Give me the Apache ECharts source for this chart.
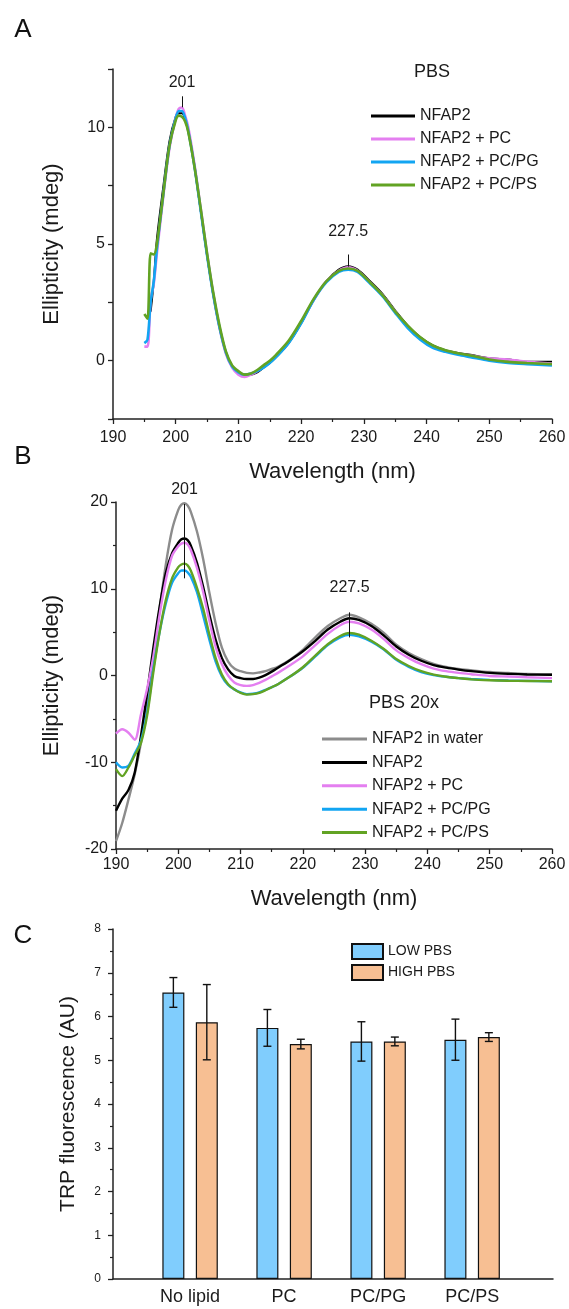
<!DOCTYPE html>
<html>
<head>
<meta charset="utf-8">
<script src="https://cdn.jsdelivr.net/npm/echarts@6/dist/echarts.min.js"></script>
<style>
  html, body { margin: 0; padding: 0; background: #fff; }
  #main { width: 569px; height: 1309px; }
</style>
</head>
<body>
<div id="main"></div>
<script>
// panel A - PBS
const wlA = [195, 195.5, 196, 196.5, 197, 198, 199, 200, 200.5, 201, 201.5, 202, 203, 204, 205, 206, 207, 208, 209, 210, 211, 212, 213, 214, 215, 216, 218, 220, 222, 224, 226, 227.5, 229, 231, 233, 235, 237, 239, 241, 243, 245, 247, 250, 253, 256, 260];
const nfapA = [null, null, 2.1, 3.4, 5.2, 7.4, 9.4, 10.45, 10.6, 10.6, 10.35, 9.85, 8.3, 6.4, 4.5, 2.8, 1.4, 0.35, -0.25, -0.5, -0.6, -0.6, -0.5, -0.3, -0.1, 0.15, 0.75, 1.6, 2.6, 3.4, 3.9, 4.05, 3.9, 3.4, 2.85, 2.15, 1.5, 1.0, 0.65, 0.45, 0.33, 0.25, 0.1, 0.05, -0.05, -0.05];
const pcA = [0.6, 0.6, 2.6, 3.3, 4.6, 7.0, 9.1, 10.4, 10.8, 10.85, 10.5, 10.0, 8.4, 6.5, 4.6, 2.85, 1.4, 0.3, -0.3, -0.6, -0.7, -0.6, -0.45, -0.25, -0.05, 0.2, 0.8, 1.65, 2.6, 3.4, 3.85, 4.0, 3.85, 3.35, 2.8, 2.1, 1.45, 0.95, 0.62, 0.42, 0.3, 0.22, 0.1, 0.05, -0.05, -0.12];
const pcpgA = [0.75, 0.9, 2.5, 3.4, 4.8, 7.1, 9.2, 10.4, 10.7, 10.7, 10.4, 9.85, 8.3, 6.4, 4.5, 2.8, 1.4, 0.35, -0.25, -0.5, -0.6, -0.55, -0.45, -0.3, -0.1, 0.15, 0.75, 1.6, 2.6, 3.35, 3.8, 3.9, 3.8, 3.3, 2.75, 2.05, 1.4, 0.9, 0.55, 0.38, 0.25, 0.15, 0.0, -0.1, -0.15, -0.2];
const pcpsA = [2.0, 1.8, 4.6, 4.55, 5.0, 7.1, 9.2, 10.3, 10.5, 10.45, 10.25, 9.8, 8.3, 6.5, 4.6, 2.9, 1.5, 0.4, -0.2, -0.45, -0.6, -0.55, -0.4, -0.2, 0.0, 0.25, 0.85, 1.7, 2.65, 3.4, 3.85, 3.95, 3.85, 3.35, 2.8, 2.1, 1.5, 1.0, 0.65, 0.45, 0.32, 0.22, 0.05, -0.05, -0.1, -0.15];
// [wavelength, from, to]
const peaksA = [[201, 10.86, 11.33], [227.5, 4.03, 4.55]];

// panel B - PBS 20x
const wlB = [190, 191, 192, 193, 194, 195, 196, 197, 198, 199, 200, 200.5, 201, 201.5, 202, 203, 204, 205, 206, 207, 208, 209, 210, 211, 212, 213, 214, 215, 216, 218, 220, 222, 224, 226, 227.5, 229, 231, 233, 235, 237, 239, 241, 243, 245, 247, 250, 253, 256, 260];
const waterB = [-19.1, -17.0, -14.3, -11.4, -7.8, -3.2, 2.1, 7.6, 12.8, 16.8, 19.1, 19.7, 19.85, 19.6, 18.9, 16.6, 13.4, 9.5, 6.0, 3.2, 1.6, 0.8, 0.5, 0.3, 0.25, 0.35, 0.5, 0.75, 1.0, 1.85, 2.95, 4.4, 5.7, 6.6, 7.0, 6.7, 5.95, 4.9, 3.55, 2.6, 1.9, 1.35, 1.0, 0.75, 0.6, 0.4, 0.28, 0.18, 0.12];
const nfapB = [-15.6, -14.2, -13.2, -11.2, -7.0, -2.0, 3.2, 7.9, 11.8, 14.1, 15.3, 15.7, 15.8, 15.6, 15.0, 13.0, 10.2, 7.0, 4.1, 2.0, 0.7, -0.05, -0.3, -0.4, -0.4, -0.25, 0.05, 0.45, 0.9, 1.8, 2.8, 4.0, 5.3, 6.2, 6.6, 6.4, 5.7, 4.6, 3.35, 2.4, 1.7, 1.2, 0.9, 0.68, 0.5, 0.3, 0.19, 0.12, 0.08];
const pcB = [-6.7, -6.2, -6.6, -7.4, -4.5, -1.5, 2.2, 7.0, 11.0, 13.8, 14.9, 15.2, 15.3, 15.1, 14.5, 12.4, 9.6, 6.3, 3.3, 1.3, 0.0, -0.8, -1.1, -1.2, -1.1, -0.85, -0.5, -0.1, 0.3, 1.2, 2.2, 3.5, 4.8, 5.8, 6.2, 6.0, 5.3, 4.2, 2.9, 2.0, 1.3, 0.8, 0.5, 0.3, 0.15, -0.05, -0.12, -0.2, -0.3];
const pcpgB = [-10.0, -10.6, -10.4, -9.0, -7.5, -4.2, 0.8, 5.0, 8.3, 10.7, 11.8, 12.1, 12.1, 11.9, 11.4, 9.6, 6.9, 4.1, 1.6, -0.1, -1.1, -1.6, -1.95, -2.15, -2.1, -1.95, -1.65, -1.35, -1.0, -0.1, 0.9, 2.2, 3.5, 4.4, 4.7, 4.5, 3.9, 3.0, 1.8, 1.0, 0.4, 0.05, -0.15, -0.3, -0.4, -0.5, -0.58, -0.62, -0.66];
const pcpsB = [-10.8, -11.6, -10.6, -9.2, -7.8, -4.6, 0.4, 5.0, 8.7, 11.2, 12.5, 12.8, 12.9, 12.7, 12.1, 10.1, 7.7, 4.7, 2.0, 0.1, -1.0, -1.6, -2.0, -2.2, -2.15, -2.0, -1.7, -1.35, -1.0, -0.1, 0.95, 2.3, 3.6, 4.55, 4.9, 4.7, 4.0, 3.05, 1.9, 1.1, 0.5, 0.1, -0.15, -0.3, -0.45, -0.55, -0.6, -0.63, -0.66];
const peaksB = [[201, 11.2, 19.77], [227.5, 4.39, 7.28]];

// panel C - TRP fluorescence
const lipids = ['No lipid', 'PC', 'PC/PG', 'PC/PS'];
const lowPBS = [6.55, 5.74, 5.43, 5.47];
const lowErr = [0.34, 0.42, 0.45, 0.47];
const highPBS = [5.87, 5.37, 5.43, 5.53];
const highErr = [0.86, 0.11, 0.1, 0.1];

const FONT = 'Liberation Sans, Arial, sans-serif';
const INK = '#1a1a1a';
const colors = {
  water: '#8c8c8c',
  nfap: '#000000',
  pc: '#e47ff0',
  pcpg: '#12a5f2',
  pcps: '#62a323'
};
const BAR_W = 22, BAR_GAP = 0.52;

var chart = echarts.init(document.getElementById('main'), null, { renderer: 'canvas' });

function pairs(wl, vals) {
  return wl.map(function (w, i) { return [w, vals[i]]; });
}

function lineSeries(name, wl, vals, color, grid, width) {
  return {
    type: 'line',
    name: name,
    xAxisIndex: grid,
    yAxisIndex: grid,
    data: pairs(wl, vals),
    symbol: 'none',
    showSymbol: false,
    smooth: 0.3,
    connectNulls: false,
    lineStyle: { color: color, width: width },
    itemStyle: { color: color },
    emphasis: { disabled: true }
  };
}

function peakMarks(peaks, dist) {
  return {
    silent: true,
    symbol: 'none',
    lineStyle: { color: '#111', width: 1, type: 'solid' },
    label: { show: true, position: 'end', formatter: '{b}', fontSize: 16, color: INK, fontFamily: FONT },
    data: peaks.map(function (p, i) {
      return [
        { name: String(p[0]), coord: [p[0], p[1]], label: { distance: dist[i] } },
        { coord: [p[0], p[2]] }
      ];
    })
  };
}

function errorSeries(vals, errs, shift) {
  return {
    type: 'custom',
    xAxisIndex: 2,
    yAxisIndex: 2,
    z: 5,
    silent: true,
    data: vals.map(function (v, i) { return [i + 1, v - errs[i], v + errs[i]]; }),
    encode: { x: 0, y: [1, 2] },
    renderItem: function (params, api) {
      var lo = api.coord([api.value(0), api.value(1)]);
      var hi = api.coord([api.value(0), api.value(2)]);
      var x = lo[0] + shift;
      var st = { stroke: '#111', lineWidth: 1.4 };
      return {
        type: 'group',
        children: [
          { type: 'line', shape: { x1: x, y1: lo[1], x2: x, y2: hi[1] }, style: st },
          { type: 'line', shape: { x1: x - 4, y1: lo[1], x2: x + 4, y2: lo[1] }, style: st },
          { type: 'line', shape: { x1: x - 4, y1: hi[1], x2: x + 4, y2: hi[1] }, style: st }
        ]
      };
    }
  };
}

var axisLine = { show: true, onZero: false, lineStyle: { color: '#222', width: 1.5 } };
var tickStyle = { show: true, inside: false, length: 5, lineStyle: { color: '#222', width: 1.3 } };
var minorTick = { show: true, splitNumber: 2, length: 3, lineStyle: { color: '#222', width: 1.2 } };
var labelBase = { color: INK, fontFamily: FONT };

function waveAxis(grid, margin, gap) {
  return {
    type: 'value', gridIndex: grid, min: 190, max: 260, interval: 10,
    axisLine: axisLine, axisTick: tickStyle, minorTick: minorTick,
    splitLine: { show: false },
    axisLabel: Object.assign({ fontSize: 16, margin: margin }, labelBase),
    name: 'Wavelength (nm)', nameLocation: 'middle', nameGap: gap,
    nameTextStyle: { fontSize: 22, color: INK, fontFamily: FONT }
  };
}

var option = {
  animation: false,
  backgroundColor: '#fff',
  grid: [
    { left: 113, top: 69, width: 439, height: 350 },
    { left: 116, top: 502, width: 436, height: 347 },
    { left: 113, top: 929, width: 440, height: 350 }
  ],
  xAxis: [
    waveAxis(0, 11, 42),
    waveAxis(1, 8, 39),
    {
      type: 'value', gridIndex: 2, min: 0.18, max: 4.86,
      axisLine: axisLine,
      axisTick: { show: false },
      splitLine: { show: false },
      axisLabel: Object.assign({
        fontSize: 18, margin: 9,
        customValues: [1, 2, 3, 4],
        formatter: function (v) { return lipids[Math.round(v) - 1] || ''; }
      }, labelBase)
    }
  ],
  yAxis: [
    {
      type: 'value', gridIndex: 0, min: -2.5, max: 12.5, interval: 2.5,
      axisLine: axisLine, axisTick: tickStyle, splitLine: { show: false },
      axisLabel: Object.assign({
        fontSize: 16, margin: 8,
        formatter: function (v) { return v % 5 === 0 ? String(v) : ''; }
      }, labelBase),
      name: 'Ellipticity (mdeg)', nameLocation: 'middle', nameGap: 50,
      nameTextStyle: { fontSize: 22, color: INK, fontFamily: FONT }
    },
    {
      type: 'value', gridIndex: 1, min: -20, max: 20, interval: 10,
      axisLine: axisLine, axisTick: tickStyle, minorTick: minorTick, splitLine: { show: false },
      axisLabel: Object.assign({ fontSize: 16, margin: 8 }, labelBase),
      name: 'Ellipticity (mdeg)', nameLocation: 'middle', nameGap: 53,
      nameTextStyle: { fontSize: 22, color: INK, fontFamily: FONT }
    },
    {
      type: 'value', gridIndex: 2, min: 0, max: 8, interval: 1,
      axisLine: axisLine, axisTick: tickStyle, minorTick: minorTick, splitLine: { show: false },
      axisLabel: Object.assign({ fontSize: 12, margin: 12 }, labelBase),
      name: 'TRP fluorescence (AU)', nameLocation: 'middle', nameGap: 34,
      nameTextStyle: { fontSize: 21, color: INK, fontFamily: FONT }
    }
  ],
  legend: [
    {
      orient: 'vertical', left: 366, top: 103, itemWidth: 44, itemHeight: 3, itemGap: 7,
      icon: 'rect',
      data: ['NFAP2', 'NFAP2 + PC', 'NFAP2 + PC/PG', 'NFAP2 + PC/PS'],
      textStyle: { fontSize: 16, lineHeight: 16, color: INK, fontFamily: FONT },
      selectedMode: false
    },
    {
      orient: 'vertical', left: 317, top: 726, itemWidth: 45, itemHeight: 3, itemGap: 7.4,
      icon: 'rect',
      data: ['NFAP2 in water', 'NFAP2', 'NFAP2 + PC', 'NFAP2 + PC/PG', 'NFAP2 + PC/PS'],
      textStyle: { fontSize: 16, lineHeight: 16, color: INK, fontFamily: FONT },
      selectedMode: false
    },
    {
      orient: 'vertical', left: 346, top: 938, itemWidth: 31, itemHeight: 15, itemGap: 4,
      icon: 'rect',
      data: ['LOW PBS', 'HIGH PBS'],
      textStyle: { fontSize: 14, lineHeight: 15, color: INK, fontFamily: FONT },
      selectedMode: false
    }
  ],
  graphic: [
    { type: 'text', x: 23, y: 30, style: { text: 'A', fontSize: 26, fontFamily: FONT, fill: '#111', align: 'center', verticalAlign: 'middle' } },
    { type: 'text', x: 23, y: 457, style: { text: 'B', fontSize: 26, fontFamily: FONT, fill: '#111', align: 'center', verticalAlign: 'middle' } },
    { type: 'text', x: 23, y: 936, style: { text: 'C', fontSize: 26, fontFamily: FONT, fill: '#111', align: 'center', verticalAlign: 'middle' } },
    { type: 'text', x: 432, y: 72, style: { text: 'PBS', fontSize: 18, fontFamily: FONT, fill: INK, align: 'center', verticalAlign: 'middle' } },
    { type: 'text', x: 404, y: 703, style: { text: 'PBS 20x', fontSize: 18, fontFamily: FONT, fill: INK, align: 'center', verticalAlign: 'middle' } }
  ],
  series: [
    lineSeries('NFAP2', wlA, nfapA, colors.nfap, 0, 2),
    lineSeries('NFAP2 + PC', wlA, pcA, colors.pc, 0, 2.6),
    lineSeries('NFAP2 + PC/PG', wlA, pcpgA, colors.pcpg, 0, 2.6),
    Object.assign(lineSeries('NFAP2 + PC/PS', wlA, pcpsA, colors.pcps, 0, 2.6), { markLine: peakMarks(peaksA, [6, 15]) }),

    lineSeries('NFAP2 in water', wlB, waterB, colors.water, 1, 2.4),
    lineSeries('NFAP2', wlB, nfapB, colors.nfap, 1, 2.4),
    lineSeries('NFAP2 + PC', wlB, pcB, colors.pc, 1, 2.4),
    lineSeries('NFAP2 + PC/PG', wlB, pcpgB, colors.pcpg, 1, 2.4),
    Object.assign(lineSeries('NFAP2 + PC/PS', wlB, pcpsB, colors.pcps, 1, 2.4), { markLine: peakMarks(peaksB, [6, 17]) }),

    {
      type: 'bar', name: 'LOW PBS', xAxisIndex: 2, yAxisIndex: 2,
      data: lowPBS.map(function (v, i) { return [i + 1, v]; }),
      barWidth: BAR_W, barGap: (BAR_GAP * 100) + '%',
      itemStyle: { color: '#80cdfd', borderColor: '#111', borderWidth: 1.2 }
    },
    {
      type: 'bar', name: 'HIGH PBS', xAxisIndex: 2, yAxisIndex: 2,
      data: highPBS.map(function (v, i) { return [i + 1, v]; }),
      barWidth: BAR_W, barGap: (BAR_GAP * 100) + '%',
      itemStyle: { color: '#f7bf93', borderColor: '#111', borderWidth: 1.2 }
    },
    errorSeries(lowPBS, lowErr, -BAR_W * (1 + BAR_GAP) / 2),
    errorSeries(highPBS, highErr, BAR_W * (1 + BAR_GAP) / 2)
  ]
};

chart.setOption(option);
</script>
</body>
</html>
